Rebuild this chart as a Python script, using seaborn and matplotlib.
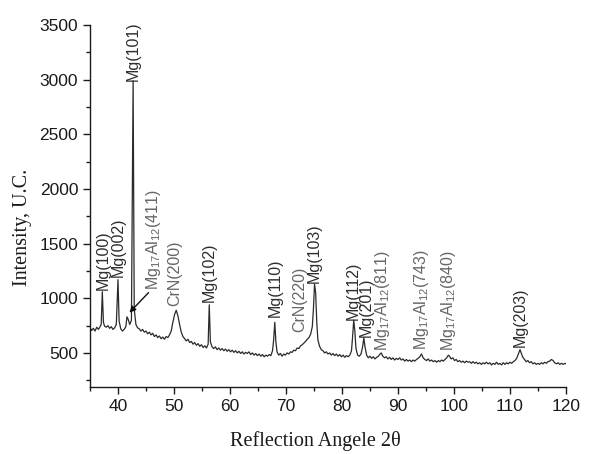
import matplotlib
matplotlib.use("Agg")
import matplotlib.pyplot as plt
import seaborn as sns
import pandas as pd
from matplotlib.ticker import MultipleLocator

two_theta = [35.0, 35.3, 35.6, 35.9, 36.2, 36.5, 36.8, 37.0, 37.2, 37.4, 37.6, 37.9, 38.2, 38.5, 38.8, 39.1, 39.4, 39.7,
             40.0, 40.2, 40.5, 40.8, 41.1, 41.4, 41.6, 41.8, 42.1, 42.4, 42.7, 42.9, 43.2, 43.5, 43.8, 44.1, 44.4, 44.7,
             45.0, 45.3, 45.6, 45.9, 46.2, 46.5, 46.8, 47.1, 47.4, 47.7, 48.0, 48.3, 48.6, 48.9, 49.2, 49.5, 49.8,
             50.1, 50.4, 50.7, 51.0, 51.3, 51.6, 51.9, 52.2, 52.5, 52.8, 53.1, 53.4, 53.7, 54.0, 54.3, 54.6, 54.9,
             55.2, 55.5, 55.8, 56.1, 56.3, 56.5, 56.8, 57.1, 57.4, 57.7, 58.0, 58.3, 58.6, 58.9, 59.2, 59.5, 59.8,
             60.1, 60.4, 60.7, 61.0, 61.3, 61.6, 61.9, 62.2, 62.5, 62.8, 63.1, 63.4, 63.7, 64.0, 64.3, 64.6, 64.9,
             65.2, 65.5, 65.8, 66.1, 66.4, 66.7, 67.0, 67.3, 67.6, 67.8, 68.0, 68.2, 68.4, 68.7, 69.0, 69.3, 69.6,
             69.9, 70.2, 70.5, 70.8, 71.1, 71.4, 71.7, 72.0, 72.3, 72.6, 72.9, 73.2, 73.5, 73.8, 74.1, 74.4, 74.7,
             74.9, 75.1, 75.3, 75.5, 75.7, 76.0, 76.3, 76.6, 76.9, 77.2, 77.5, 77.8, 78.1, 78.4, 78.7, 79.0, 79.3,
             79.6, 79.9, 80.2, 80.5, 80.8, 81.1, 81.4, 81.7, 81.9, 82.1, 82.3, 82.5, 82.8, 83.1, 83.4, 83.7, 83.9,
             84.1, 84.4, 84.7, 85.0, 85.3, 85.6, 85.9, 86.2, 86.5, 86.8, 87.0, 87.3, 87.6, 87.9, 88.2, 88.5, 88.8,
             89.1, 89.4, 89.7, 90.0, 90.3, 90.6, 90.9, 91.2, 91.5, 91.8, 92.1, 92.4, 92.7, 93.0, 93.3, 93.6, 93.9,
             94.2, 94.5, 94.8, 95.1, 95.4, 95.7, 96.0, 96.3, 96.6, 96.9, 97.2, 97.5, 97.8, 98.1, 98.4, 98.7, 99.0,
             99.2, 99.5, 99.8, 100.1, 100.4, 100.7, 101.0, 101.3, 101.6, 101.9, 102.2, 102.5, 102.8, 103.1, 103.4,
             103.7, 104.0, 104.3, 104.6, 104.9, 105.2, 105.5, 105.8, 106.1, 106.4, 106.7, 107.0, 107.3, 107.6,
             107.9, 108.2, 108.5, 108.8, 109.1, 109.4, 109.7, 110.0, 110.3, 110.6, 110.9, 111.2, 111.5, 111.8,
             112.0, 112.3, 112.6, 112.9, 113.2, 113.5, 113.8, 114.1, 114.4, 114.7, 115.0, 115.3, 115.6, 115.9,
             116.2, 116.5, 116.8, 117.1, 117.4, 117.7, 118.0, 118.3, 118.6, 118.9, 119.2, 119.5, 119.8, 120.0]

intensity = [730, 705, 725, 700, 735, 715, 740, 760, 1060, 780, 745, 735, 750, 725, 740, 715, 730, 760,
             1170, 790, 720, 700, 715, 740, 830, 810, 760, 800, 2990, 900, 760, 730, 720, 700, 715, 690,
             700, 675, 690, 665, 680, 650, 665, 640, 655, 630, 645, 625, 650, 640, 665, 700, 780,
             850, 890, 840, 760, 690, 650, 630, 610, 625, 595, 605, 580, 595, 570, 585, 560, 575,
             550, 565, 545, 580, 940, 600, 555, 540, 555, 530, 545, 525, 540, 520, 535, 515, 530,
             510, 525, 505, 520, 500, 515, 495, 510, 490, 505, 495, 510, 485, 500, 480, 495, 475,
             490, 470, 485, 465, 480, 470, 485, 475, 520, 620, 780, 600, 510, 480, 495, 470, 490,
             480, 500, 490, 510, 505, 525, 520, 545, 540, 565, 575, 590, 605, 625, 640, 670, 740,
             900, 1130, 1050, 780, 620, 560, 530, 520, 500, 510, 490, 500, 480, 495, 475, 490, 470,
             485, 465, 480, 460, 475, 465, 480, 520, 650, 800, 700, 540, 480, 470, 490, 560, 640,
             560, 480, 455, 470, 450, 465, 445, 460, 470, 490, 500, 470, 455, 465, 445, 460, 440,
             455, 435, 450, 440, 455, 435, 445, 425, 440, 425, 435, 420, 435, 425, 440, 450, 465,
             490, 455, 440, 430, 445, 425, 435, 420, 430, 415, 430, 420, 435, 425, 440, 455, 480,
             470, 445, 455, 430, 440, 420, 430, 415, 425, 410, 425, 415, 420, 405, 420,
             405, 415, 400, 410, 395, 410, 400, 415, 400, 410, 390, 405, 395, 415,
             395, 405, 390, 410, 395, 410, 400, 415, 405, 420, 430, 450, 490, 530,
             500, 460, 440, 420, 430, 410, 420, 400, 410, 395, 405, 395, 410, 400,
             415, 405, 420, 425, 440, 430, 410, 400, 410, 395, 405, 395, 405, 400]

peak_labels = ["Mg(100)", "Mg(002)", "Mg(101)", "Mg$_{17}$Al$_{12}$(411)", "CrN(200)", "Mg(102)",
               "Mg(110)", "CrN(220)", "Mg(103)", "Mg(112)", "Mg(201)", "Mg$_{17}$Al$_{12}$(811)",
               "Mg$_{17}$Al$_{12}$(743)", "Mg$_{17}$Al$_{12}$(840)", "Mg(203)"]
label_x = [37.3, 40.1, 42.8, 46.4, 50.2, 56.3, 68.0, 72.4, 75.1, 82.1, 84.3, 87.2, 94.2, 99.0, 111.8]
label_y = [1075, 1190, 2990, 1075, 930, 965, 830, 690, 1140, 800, 650, 520, 525, 515, 555]
label_dark = [True, True, True, False, False, True, True, False, True, True, True, False, False, False, True]

sns.set_style("ticks")
plt.rcParams['font.family'] = ['Liberation Sans', 'DejaVu Sans']
plt.rcParams['mathtext.fontset'] = 'custom'
plt.rcParams['mathtext.rm'] = 'Liberation Sans'
plt.rcParams['mathtext.it'] = 'Liberation Sans'

fig = plt.figure(figsize=(6.04, 4.54), dpi=100)
ax = fig.add_axes([0.149, 0.148, 0.788, 0.797])

df = pd.DataFrame({"two_theta": two_theta, "intensity": intensity})
sns.lineplot(data=df, x="two_theta", y="intensity", ax=ax, color="#2a2a2a", linewidth=0.9, sort=False)

ax.set_xlim(35, 120)
ax.set_ylim(190, 3500)
ax.xaxis.set_major_locator(MultipleLocator(10))
ax.xaxis.set_minor_locator(MultipleLocator(5))
ax.yaxis.set_minor_locator(MultipleLocator(250))
ax.set_yticks([500, 1000, 1500, 2000, 2500, 3000, 3500])
ax.tick_params(which='major', direction='out', length=5, width=1, labelsize=12.5, colors='#1a1a1a')
ax.tick_params(which='minor', direction='out', length=3, width=1, colors='#1a1a1a')
sns.despine(ax=ax)
for s in ['left', 'bottom']:
    ax.spines[s].set_linewidth(1.0)
    ax.spines[s].set_color('#1a1a1a')

for lab, lx, ly, dark in zip(peak_labels, label_x, label_y, label_dark):
    ax.text(lx, ly, lab, rotation=90, ha='center', va='bottom', fontsize=11.5,
            color='#2e2e2e' if dark else '#666666')

ax.annotate("", xy=(41.7, 850), xytext=(45.8, 1070),
            arrowprops=dict(arrowstyle='-|>', color='#111', lw=1.0, mutation_scale=9))

ax.set_xlabel("")
ax.set_ylabel("")
serif = ['Liberation Serif', 'DejaVu Serif']
fig.text(0.522, 0.028, "Reflection Angele 2θ", family=serif, fontsize=14.5, color='#1a1a1a',
         ha='center', va='center')
fig.text(0.038, 0.50, "Intensity, U.C.", family=serif, fontsize=14.5, color='#1a1a1a',
         ha='center', va='center', rotation=90)

fig.savefig("out.png", dpi=100)
